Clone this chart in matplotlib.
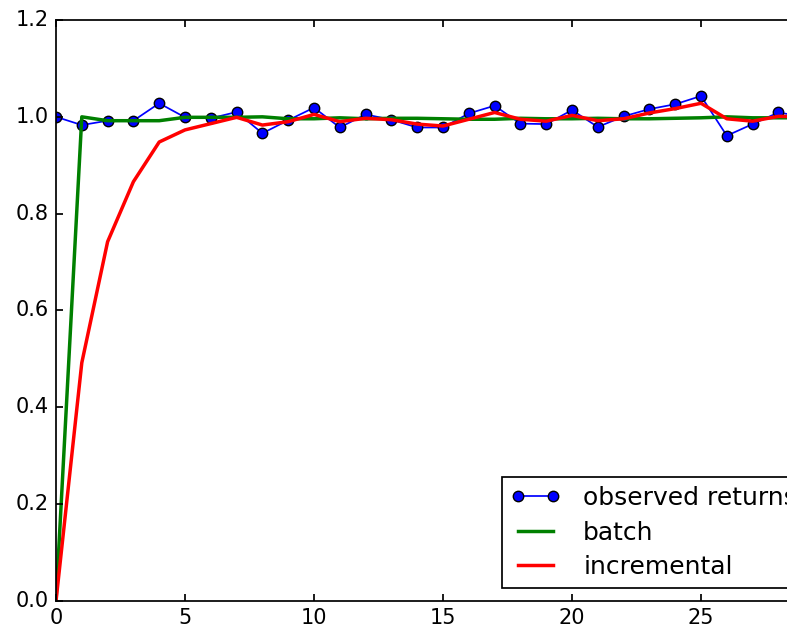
import matplotlib
matplotlib.use("Agg")
import matplotlib.pyplot as plt

plt.style.use("classic")

steps = list(range(30))

observed_returns = [1.000, 0.983, 0.992, 0.992, 1.028, 0.999, 0.997, 1.010, 0.966, 0.993,
                    1.019, 0.978, 1.005, 0.994, 0.978, 0.978, 1.007, 1.023, 0.986, 0.985,
                    1.014, 0.979, 1.001, 1.016, 1.026, 1.043, 0.961, 0.985, 1.009, 1.000]

batch = [0.000, 1.000, 0.992, 0.992, 0.992, 0.999, 0.999, 0.999, 1.000, 0.996,
         0.996, 0.998, 0.996, 0.997, 0.997, 0.996, 0.995, 0.995, 0.997, 0.996,
         0.996, 0.997, 0.996, 0.996, 0.997, 0.998, 1.000, 0.998, 0.998, 0.998]

incremental = [0.000, 0.492, 0.742, 0.866, 0.948, 0.973, 0.986, 0.999, 0.983, 0.990,
               1.005, 0.990, 0.997, 0.994, 0.985, 0.981, 0.995, 1.009, 0.995, 0.991,
               1.003, 0.992, 0.996, 1.008, 1.017, 1.028, 0.996, 0.991, 1.001, 1.000]

# the reference looks like a classic-style figure rendered at ~1.25x scale
plt.rcParams["axes.linewidth"] = 1.25
plt.rcParams["xtick.major.size"] = 5
plt.rcParams["ytick.major.size"] = 5
plt.rcParams["xtick.major.width"] = 1.25
plt.rcParams["ytick.major.width"] = 1.25
plt.rcParams["xtick.labelsize"] = 15
plt.rcParams["ytick.labelsize"] = 15
plt.rcParams["xtick.major.pad"] = 5
plt.rcParams["ytick.major.pad"] = 5

fig = plt.figure(figsize=(7.87, 6.25), dpi=100, facecolor="white")
# the original is cropped on the right, so the axes run past the figure edge
ax = fig.add_axes([56 / 787, 24 / 625, 774 / 787, 581 / 625])

ax.plot(steps, observed_returns, "b-o", linewidth=1.25, markersize=7.5,
        markeredgewidth=1.0, label="observed returns")
ax.plot(steps, batch, color="green", linewidth=2.5, label="batch")
ax.plot(steps, incremental, color="red", linewidth=2.5, label="incremental")

ax.set_xlim(0, 30)
ax.set_ylim(0, 1.2)
leg = ax.legend(loc="lower left", bbox_to_anchor=(0.5762, 0.0224), borderaxespad=0,
                fontsize=18, labelspacing=0.42, borderpad=0.35, handletextpad=0.9)
leg.get_frame().set_linewidth(1.25)

fig.savefig("out.png", dpi=100, facecolor="white")
